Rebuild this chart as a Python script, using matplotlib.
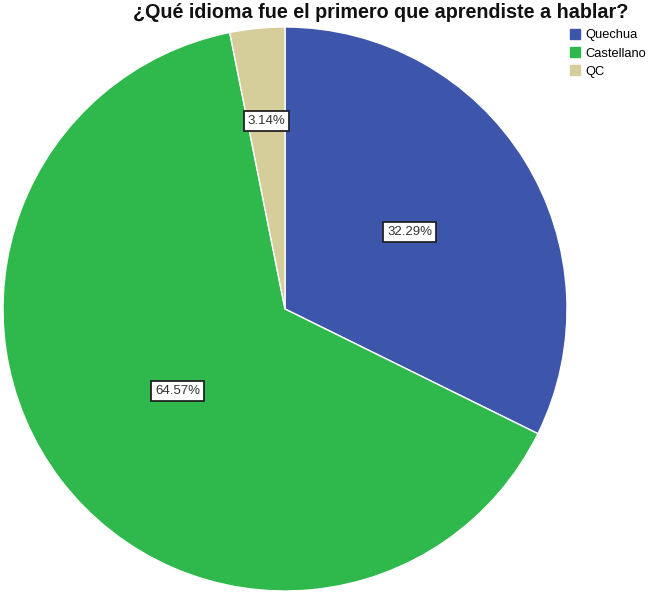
import numpy as np
import matplotlib
matplotlib.use("Agg")
import matplotlib.pyplot as plt

# data
categories = ["Quechua", "Castellano", "QC"]
values = [32.29, 64.57, 3.14]
colors = ["#3d56ab", "#2fb84b", "#d5cd9a"]
label_dist = [0.52, 0.48, 0.67]

title = "¿Qué idioma fue el primero que aprendiste a hablar?"

plt.rcParams['font.family'] = ['Liberation Sans', 'DejaVu Sans']

fig = plt.figure(figsize=(6.49, 5.93), dpi=100)
ax = fig.add_axes([3/649, 2/593, 564/649, 564/593])

wedges, _ = ax.pie(values, colors=colors, startangle=90, counterclock=False,
                   radius=1, wedgeprops=dict(edgecolor="white", linewidth=1.0))
ax.set_xlim(-1, 1)
ax.set_ylim(-1, 1)
ax.set_aspect('equal')
ax.axis('off')

for w, v, d in zip(wedges, values, label_dist):
    ang = np.deg2rad((w.theta1 + w.theta2) / 2)
    ax.text(d * np.cos(ang), d * np.sin(ang), f"{v:.2f}%", ha='center', va='center',
            fontsize=9.5, color='#333333',
            bbox=dict(boxstyle='square,pad=0.3', fc='white', ec='#222222', lw=1.3))

fig.text(381/649, 1 - 13/593, title, ha='center', va='center',
         fontsize=14.2, fontweight='bold', color='#111111')

handles = [plt.Rectangle((0, 0), 1, 1, color=c) for c in colors]
fig.legend(handles, categories, loc='upper left', bbox_to_anchor=(570/649, 1 - 29/593),
           frameon=False, fontsize=9.3, handlelength=0.8, handleheight=0.8,
           handletextpad=0.4, labelspacing=0.45, borderaxespad=0, borderpad=0)

fig.savefig("out.png", dpi=100)
